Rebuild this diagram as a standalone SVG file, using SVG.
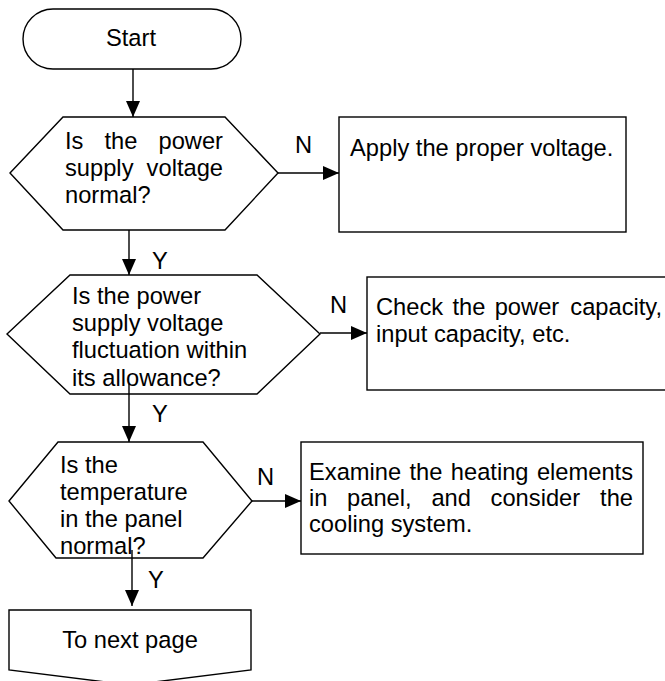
<svg xmlns="http://www.w3.org/2000/svg" width="665" height="681" viewBox="0 0 665 681">
<style>
.shape{fill:#fff;stroke:#000;stroke-width:1.4}
.conn{fill:none;stroke:#000;stroke-width:1.4}
text{font-family:"Liberation Sans",Arial,sans-serif;font-size:23.7px;fill:#000}
</style>
<defs>
<marker id="arr" markerUnits="userSpaceOnUse" markerWidth="18" markerHeight="14" refX="16" refY="7" orient="auto">
<path d="M0,0 L16,7 L0,14 Z" fill="#000"/>
</marker>
</defs>
<rect width="665" height="681" fill="#fff"/>
<g id="start">
<rect class="shape" x="23" y="9" width="218" height="60" rx="30" ry="30"/>
<text x="131" y="46" text-anchor="middle">Start</text>
</g>
<g id="decision1">
<polygon class="shape" points="10,173 63,117 225,117 278,173 225,230 63,230"/>
<text x="65" y="149">Is</text>
<text x="104.5" y="149">the</text>
<text x="223" y="149" text-anchor="end">power</text>
<text x="65" y="176">supply</text>
<text x="223" y="176" text-anchor="end">voltage</text>
<text x="65" y="203">normal?</text>
</g>
<g id="box1">
<rect class="shape" x="339" y="117" width="287" height="115"/>
<text x="350" y="156">Apply the proper voltage.</text>
</g>
<g id="decision2">
<polygon class="shape" points="7,334 70,275 257,275 320,334 257,394 70,394"/>
<text x="72" y="304">Is the power</text>
<text x="72" y="331">supply voltage</text>
<text x="72" y="358">fluctuation within</text>
<text x="72" y="386">its allowance?</text>
</g>
<g id="box2">
<rect class="shape" x="367" y="277" width="300" height="113"/>
<text x="376" y="315">Check</text>
<text x="452.5" y="315">the</text>
<text x="494.7" y="315">power</text>
<text x="662" y="315" text-anchor="end">capacity,</text>
<text x="376" y="342">input capacity, etc.</text>
</g>
<g id="decision3">
<polygon class="shape" points="9,501 58,442 203,442 252,501 203,558 56,558"/>
<text x="60" y="473">Is the</text>
<text x="60" y="500">temperature</text>
<text x="60" y="527">in the panel</text>
<text x="60" y="554">normal?</text>
</g>
<g id="box3">
<rect class="shape" x="301" y="442" width="342" height="112"/>
<text x="309" y="480">Examine</text>
<text x="409.5" y="480">the</text>
<text x="450.8" y="480">heating</text>
<text x="633" y="480" text-anchor="end">elements</text>
<text x="309" y="506">in</text>
<text x="347.1" y="506">panel,</text>
<text x="431.4" y="506">and</text>
<text x="490.6" y="506">consider</text>
<text x="633" y="506" text-anchor="end">the</text>
<text x="309" y="532">cooling system.</text>
</g>
<g id="nextpage">
<polygon class="shape" points="9,610 251,610 251,670 130,685 9,670"/>
<text x="130" y="648" text-anchor="middle">To next page</text>
</g>
<g id="connectors">
<path class="conn" d="M133,69 V117" marker-end="url(#arr)"/>
<path class="conn" d="M278,173 H339" marker-end="url(#arr)"/>
<path class="conn" d="M129,230 V275" marker-end="url(#arr)"/>
<path class="conn" d="M320,333 H367" marker-end="url(#arr)"/>
<path class="conn" d="M129,384 V442" marker-end="url(#arr)"/>
<path class="conn" d="M252,501 H301" marker-end="url(#arr)"/>
<path class="conn" d="M132,550 V606" marker-end="url(#arr)"/>
<text x="295" y="153">N</text>
<text x="152" y="269">Y</text>
<text x="330" y="313">N</text>
<text x="152" y="422">Y</text>
<text x="257" y="485">N</text>
<text x="148" y="588">Y</text>
</g>
</svg>
